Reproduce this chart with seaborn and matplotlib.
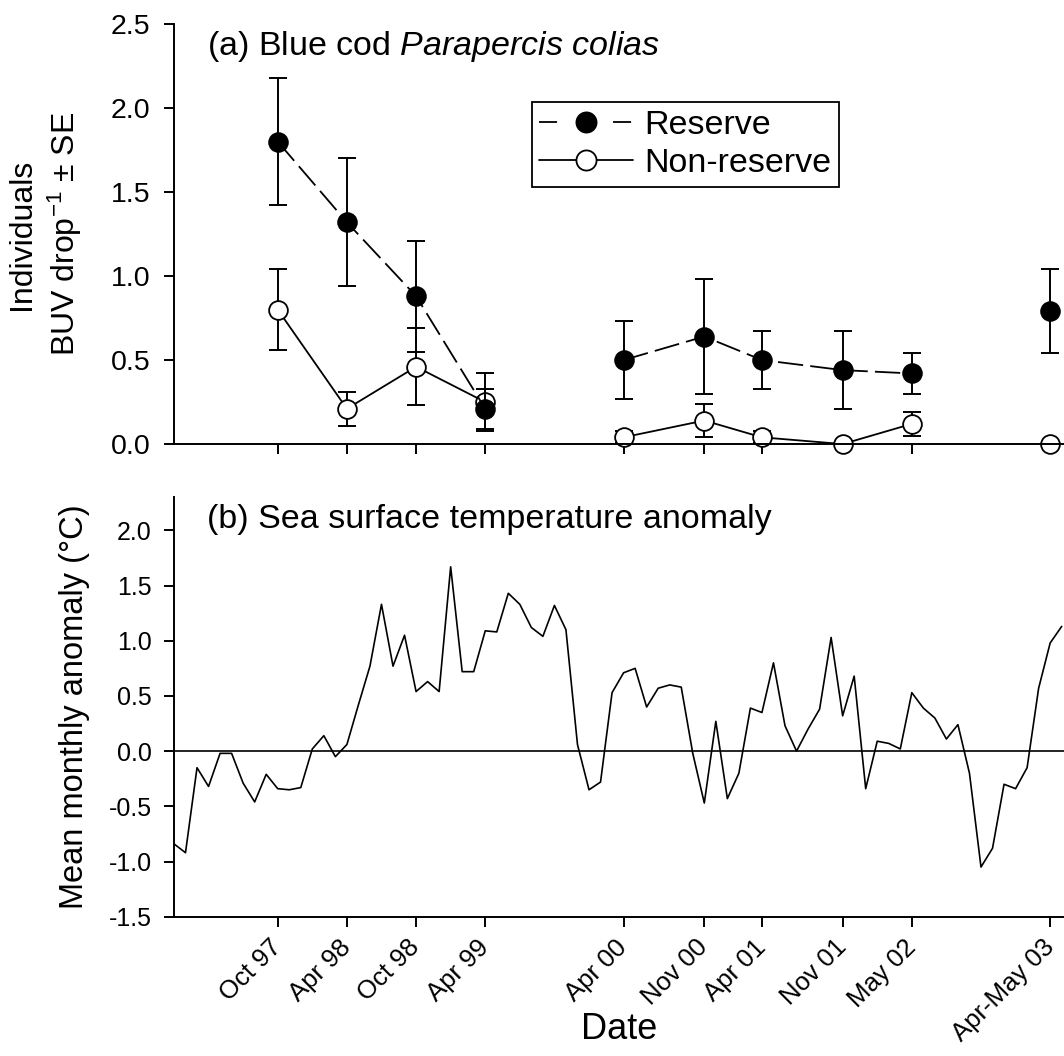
import numpy as np
import pandas as pd
import matplotlib
matplotlib.use("Agg")
import matplotlib.pyplot as plt
import matplotlib.transforms as mtransforms
import seaborn as sns
from matplotlib.lines import Line2D

# survey dates (months counted from Jan 1997)
survey_labels = ["Oct 97", "Apr 98", "Oct 98", "Apr 99", "Apr 00",
                 "Nov 00", "Apr 01", "Nov 01", "May 02", "Apr-May 03"]
survey_month = [9, 15, 21, 27, 39, 46, 51, 58, 64, 76]
survey_block = [1, 1, 1, 1, 2, 2, 2, 2, 2, 3]

reserve_mean = [1.80, 1.32, 0.88, 0.21, 0.50, 0.64, 0.50, 0.44, 0.42, 0.79]
reserve_se = [0.38, 0.38, 0.33, 0.12, 0.23, 0.34, 0.17, 0.23, 0.12, 0.25]
nonreserve_mean = [0.80, 0.21, 0.46, 0.25, 0.04, 0.14, 0.04, 0.00, 0.12, 0.00]
nonreserve_se = [0.24, 0.10, 0.23, 0.17, 0.035, 0.10, 0.035, 0.0, 0.07, 0.0]

# monthly SST anomaly, Jan 1997 onwards
sst_anomaly = [-0.84, -0.92, -0.15, -0.32, -0.02, -0.02, -0.29, -0.46, -0.21, -0.34, -0.35, -0.33,
               0.02, 0.14, -0.05, 0.06, 0.42, 0.77, 1.33, 0.77, 1.05, 0.54, 0.63, 0.54,
               1.67, 0.72, 0.72, 1.09, 1.08, 1.43, 1.33, 1.12, 1.04, 1.32, 1.10, 0.06,
               -0.35, -0.28, 0.53, 0.71, 0.75, 0.40, 0.57, 0.60, 0.58, -0.02, -0.47, 0.27,
               -0.43, -0.20, 0.39, 0.35, 0.80, 0.23, 0.00, 0.20, 0.38, 1.03, 0.32, 0.68,
               -0.34, 0.09, 0.07, 0.02, 0.53, 0.39, 0.30, 0.11, 0.24, -0.20, -1.05, -0.88,
               -0.30, -0.34, -0.15, 0.57, 0.98, 1.13]

sns.set_theme(style="ticks")
plt.rcParams["font.family"] = ["Liberation Sans", "DejaVu Sans"]
plt.rcParams.update({
    "mathtext.fontset": "custom",
    "mathtext.rm": "Liberation Sans",
    "mathtext.it": "Liberation Sans:italic",
    "axes.unicode_minus": False,
    "axes.linewidth": 1.4,
    "axes.edgecolor": "black",
    "axes.labelcolor": "black",
    "text.color": "black",
    "xtick.color": "black",
    "ytick.color": "black",
    "xtick.major.width": 1.4,
    "ytick.major.width": 1.4,
    "xtick.major.size": 7,
    "ytick.major.size": 7,
})

survey = pd.DataFrame({
    "month": survey_month,
    "block": survey_block,
    "reserve": reserve_mean,
    "reserve_se": reserve_se,
    "nonreserve": nonreserve_mean,
    "nonreserve_se": nonreserve_se,
})
sst = pd.DataFrame({"month": np.arange(len(sst_anomaly)), "anomaly": sst_anomaly})

fig = plt.figure(figsize=(10.64, 10.56), dpi=100)
ax1 = fig.add_axes([0.1635, 0.5795, 0.8365, 0.3978])
ax2 = fig.add_axes([0.1635, 0.1319, 0.8365, 0.3972])

MS = 13.5
LW = 1.3

# --- panel (a)
for col, face, ls, z in [("nonreserve", "white", "-", 2), ("reserve", "black", (0, (14, 4)), 5)]:
    err = survey[survey[col + "_se"] > 0]
    ax1.errorbar(err["month"], err[col], yerr=err[col + "_se"], fmt="none",
                 ecolor="black", elinewidth=1.4, capsize=6.5, capthick=1.4, zorder=z)
    sns.lineplot(data=survey, x="month", y=col, units="block", estimator=None,
                 color="black", linewidth=LW, linestyle=ls, ax=ax1, zorder=z + 0.1)
    ax1.plot(survey["month"], survey[col], linestyle="none", marker="o", markersize=MS,
             markerfacecolor=face, markeredgecolor="black", markeredgewidth=1.3,
             zorder=z + 0.2, clip_on=False)

ax1.set_xlim(0, 77.2)
ax1.set_ylim(0, 2.5)
ax1.set_yticks(np.arange(0, 2.51, 0.5))
ax1.set_yticklabels([f"{v:.1f}" for v in np.arange(0, 2.51, 0.5)])
ax1.set_xticks(survey_month)
ax1.set_xticklabels([])
ax1.tick_params(axis="y", labelsize=20.5, pad=10)
ax1.tick_params(axis="x", length=7)
ax1.set_xlabel("")
ax1.set_ylabel("Individuals\nBUV drop$^{-1}$ ± SE", fontsize=23, linespacing=1.3)
ax1.yaxis.set_label_coords(-0.101, 0.5)
ax1.text(0.0367, 0.926, r"(a) Blue cod $\mathit{Parapercis\ colias}$", transform=ax1.transAxes,
         fontsize=24.5, va="baseline", ha="left")

handles = [
    Line2D([], [], color="black", linewidth=LW, dashes=(10, 10.5), marker="o", markersize=MS + 1,
           markerfacecolor="black", markeredgecolor="black", markeredgewidth=1.3),
    Line2D([], [], color="black", linewidth=LW, marker="o", markersize=MS + 1,
           markerfacecolor="white", markeredgecolor="black", markeredgewidth=1.3),
]
leg = ax1.legend(handles, ["Reserve", "Non-reserve"], loc="upper left",
                 bbox_to_anchor=(0.402, 0.814), borderaxespad=0, fontsize=24.5,
                 handlelength=2.75, handletextpad=0.34, labelspacing=0.22,
                 borderpad=0.22, fancybox=False, framealpha=1, numpoints=1)
leg.get_frame().set_edgecolor("black")
leg.get_frame().set_linewidth(1.3)

# --- panel (b)
sns.lineplot(data=sst, x="month", y="anomaly", color="black", linewidth=1.2, ax=ax2)
ax2.axhline(0, color="black", linewidth=1.2)
ax2.set_xlim(0, 77.2)
ax2.set_ylim(-1.5, 2.3)
yt = np.arange(-1.5, 2.01, 0.5)
ax2.set_yticks(yt)
ax2.set_yticklabels([f"{v:.1f}" for v in yt])
ax2.tick_params(axis="y", labelsize=18, pad=9)
ax2.set_xticks(survey_month)
ax2.set_xticklabels(survey_labels, fontsize=18.5)
ax2.tick_params(axis="x", pad=16)
shift = mtransforms.ScaledTranslation(5 / 100, 0, fig.dpi_scale_trans)
for lab in ax2.get_xticklabels():
    lab.set_rotation(45)
    lab.set_ha("right")
    lab.set_va("baseline")
    lab.set_rotation_mode("anchor")
    lab.set_transform(lab.get_transform() + shift)
ax2.set_ylabel("Mean monthly anomaly (°C)", fontsize=23.5)
ax2.yaxis.set_label_coords(-0.094, 0.5)
ax2.set_xlabel("Date", fontsize=26)
ax2.xaxis.set_label_coords(0.5, -0.228)
ax2.text(0.0367, 0.926, "(b) Sea surface temperature anomaly", transform=ax2.transAxes,
         fontsize=24.5, va="baseline", ha="left")

for ax in (ax1, ax2):
    sns.despine(ax=ax)

fig.savefig("out.png", dpi=100)
